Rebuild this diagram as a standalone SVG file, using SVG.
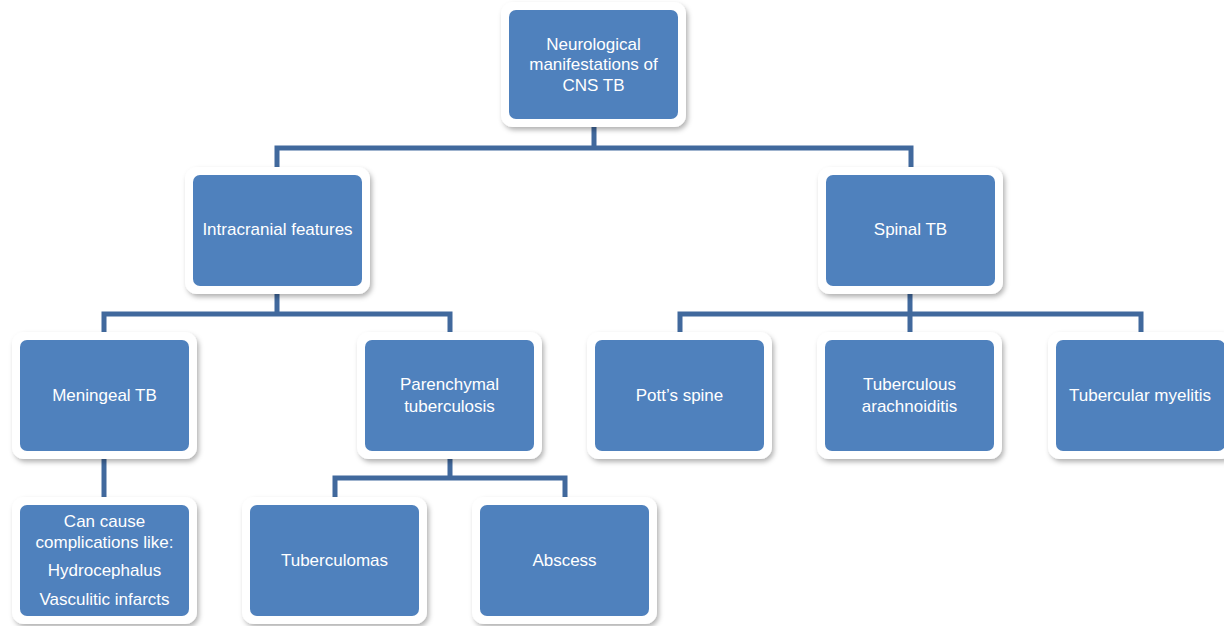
<svg xmlns="http://www.w3.org/2000/svg" width="1224" height="626" viewBox="0 0 1224 626">
<defs>
<filter id="sh" x="-10%" y="-10%" width="125%" height="130%">
<feDropShadow dx="2" dy="3" stdDeviation="2.5" flood-color="#000" flood-opacity="0.3"/>
</filter>
</defs>
<style>
.frame{fill:#fff;filter:url(#sh)}
.box{fill:#4f81bd}
.t{font-family:"Liberation Sans",Arial,sans-serif;font-size:17px;fill:#fff;text-anchor:middle}
.c{fill:none;stroke:#41699d;stroke-width:5}
</style>
<rect width="1224" height="626" fill="#fff"/>
<g id="connectors">
<path class="c" d="M594 127V148M277 167V148H911V167"/>
<path class="c" d="M277 294V314M104 332V314H450V332"/>
<path class="c" d="M910 294V332M680 332V314H1141V332"/>
<path class="c" d="M104 459V497"/>
<path class="c" d="M450 459V478M335 497V478H565V497"/>
</g>
<g id="root">
<rect class="frame" x="501" y="2" width="185" height="125" rx="12"/>
<rect class="box" x="509" y="10" width="169" height="109" rx="7"/>
<text class="t" x="593.5" y="50">Neurological</text>
<text class="t" x="593.5" y="70">manifestations of</text>
<text class="t" x="593.5" y="91">CNS TB</text>
</g>
<g id="intracranial">
<rect class="frame" x="185" y="167" width="185" height="127" rx="12"/>
<rect class="box" x="193" y="175" width="169" height="111" rx="7"/>
<text class="t" x="277.5" y="235">Intracranial features</text>
</g>
<g id="spinal">
<rect class="frame" x="818" y="167" width="185" height="127" rx="12"/>
<rect class="box" x="826" y="175" width="169" height="111" rx="7"/>
<text class="t" x="910.5" y="235">Spinal TB</text>
</g>
<g id="meningeal">
<rect class="frame" x="12" y="332" width="185" height="127" rx="12"/>
<rect class="box" x="20" y="340" width="169" height="111" rx="7"/>
<text class="t" x="104.5" y="401">Meningeal TB</text>
</g>
<g id="parenchymal">
<rect class="frame" x="357" y="332" width="185" height="127" rx="12"/>
<rect class="box" x="365" y="340" width="169" height="111" rx="7"/>
<text class="t" x="449.5" y="390">Parenchymal</text>
<text class="t" x="449.5" y="412">tuberculosis</text>
</g>
<g id="potts">
<rect class="frame" x="587" y="332" width="185" height="127" rx="12"/>
<rect class="box" x="595" y="340" width="169" height="111" rx="7"/>
<text class="t" x="679.5" y="401">Pott’s spine</text>
</g>
<g id="arachnoiditis">
<rect class="frame" x="817" y="332" width="185" height="127" rx="12"/>
<rect class="box" x="825" y="340" width="169" height="111" rx="7"/>
<text class="t" x="909.5" y="390">Tuberculous</text>
<text class="t" x="909.5" y="412">arachnoiditis</text>
</g>
<g id="myelitis">
<rect class="frame" x="1048" y="332" width="185" height="127" rx="12"/>
<rect class="box" x="1056" y="340" width="169" height="111" rx="7"/>
<text class="t" x="1140" y="401">Tubercular myelitis</text>
</g>
<g id="complications">
<rect class="frame" x="12" y="497" width="185" height="127" rx="12"/>
<rect class="box" x="20" y="505" width="169" height="111" rx="7"/>
<text class="t" x="104.5" y="527">Can cause</text>
<text class="t" x="104.5" y="548">complications like:</text>
<text class="t" x="104.5" y="576">Hydrocephalus</text>
<text class="t" x="104.5" y="605">Vasculitic infarcts</text>
</g>
<g id="tuberculomas">
<rect class="frame" x="242" y="497" width="185" height="127" rx="12"/>
<rect class="box" x="250" y="505" width="169" height="111" rx="7"/>
<text class="t" x="334.5" y="566">Tuberculomas</text>
</g>
<g id="abscess">
<rect class="frame" x="472" y="497" width="185" height="127" rx="12"/>
<rect class="box" x="480" y="505" width="169" height="111" rx="7"/>
<text class="t" x="564.5" y="566">Abscess</text>
</g>
</svg>
